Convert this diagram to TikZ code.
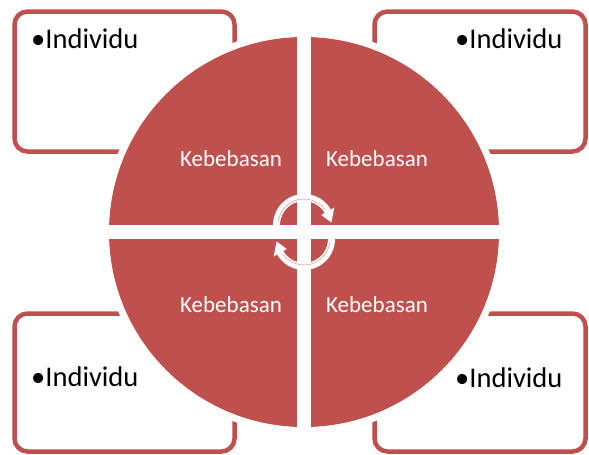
\documentclass[tikz,border=0pt]{standalone}
\usepackage{fontspec}
\setmainfont{Carlito}
\definecolor{accred}{HTML}{C0504D}
\definecolor{arrpink}{HTML}{E2B3B1}
\begin{document}
\begin{tikzpicture}[x=1pt,y=-1pt,
  box/.style={draw=accred, line width=4.5pt, rounded corners=13pt, fill=white},
  ind/.style={font=\fontsize{28.5}{34}\selectfont, text=black, inner sep=0pt, anchor=base west},
  keb/.style={font=\fontsize{23}{28}\selectfont, text=white, inner sep=0pt, anchor=base},
  arrowshape/.style={fill=white},
  arrowline/.style={draw=arrpink, line width=0.8pt}]
\useasboundingbox (0,0) rectangle (589,455);
% boxes
\draw[box] (14.5,11.5) rectangle (234.5,151.5);
\draw[box] (374.5,11.5) rectangle (585.5,151.5);
\draw[box] (14.5,313.5) rectangle (234.5,451.5);
\draw[box] (374.5,313.5) rectangle (585.5,451.5);
% box texts
\node[ind] (tl) at (31,48) {•Individu};
\node[ind] (tr) at (455,48) {•Individu};
\node[ind] (bl) at (31,386) {•Individu};
\node[ind] (br) at (455,387) {•Individu};
% circle
\draw[white, line width=14pt] (304,232) circle[radius=195];
\fill[accred] (304,232) circle[radius=195];
\draw[white, line width=14pt] (304,30) -- (304,434);
\draw[white, line width=14pt] (102,232) -- (506,232);
% quadrant texts
\node[keb] (q1) at (231,166) {Kebebasan};
\node[keb] (q2) at (377,166) {Kebebasan};
\node[keb] (q3) at (231,312) {Kebebasan};
\node[keb] (q4) at (377,312) {Kebebasan};
% circular arrows
\begin{scope}[shift={(304,232)}, yscale=-1]
  \begin{scope}[shift={(0,7)}]
    \fill[arrowshape] (180:31) arc[start angle=180, end angle=30, radius=31]
      -- (30:35) -- (5:27.5) -- (30:20) -- (30:24)
      arc[start angle=30, end angle=180, radius=24] -- cycle;
    \draw[arrowline] (172:26) arc[start angle=172, end angle=36, radius=26];
  \end{scope}
  \begin{scope}[shift={(0,-7)}]
    \fill[arrowshape] (0:31) arc[start angle=0, end angle=-150, radius=31]
      -- (210:35) -- (185:27.5) -- (210:20) -- (210:24)
      arc[start angle=-150, end angle=0, radius=24] -- cycle;
    \draw[arrowline] (-8:26) arc[start angle=-8, end angle=-144, radius=26];
  \end{scope}
\end{scope}
\end{tikzpicture}
\end{document}
